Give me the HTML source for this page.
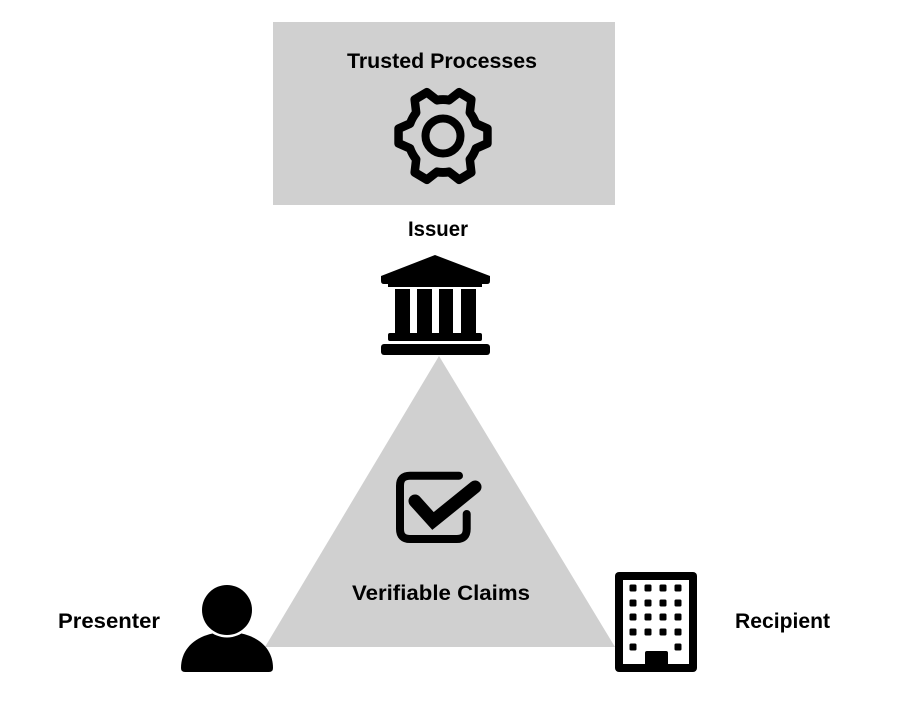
<!DOCTYPE html>
<html><head><meta charset="utf-8"><style>
html,body{margin:0;padding:0;background:#fff;}
svg{display:block;}
text{font-family:"Liberation Sans",Arial,sans-serif;font-weight:bold;font-size:21px;fill:#000;}
</style></head><body>
<svg width="902" height="702" viewBox="0 0 902 702" xmlns="http://www.w3.org/2000/svg">
<rect x="0" y="0" width="902" height="702" fill="#fff"/>
<!-- Trusted Processes box -->
<rect x="273" y="22" width="342" height="183" fill="#d0d0d0"/>
<text x="442" y="68" text-anchor="middle" textLength="190" lengthAdjust="spacingAndGlyphs">Trusted Processes</text>
<!-- gear -->
<g transform="translate(443,136)" fill="none" stroke="#000" stroke-width="8.5" stroke-linejoin="round">
<path d="M32.89,-11.97 L44.45,-7.04 L44.45,7.04 L32.89,11.97 A35,35 0 0 1 26.81,22.5 L28.32,34.97 L16.13,42.01 L6.08,34.47 A35,35 0 0 1 -6.08,34.47 L-16.13,42.01 L-28.32,34.97 L-26.81,22.5 A35,35 0 0 1 -32.89,11.97 L-44.45,7.04 L-44.45,-7.04 L-32.89,-11.97 A35,35 0 0 1 -26.81,-22.5 L-28.32,-34.97 L-16.13,-42.01 L-6.08,-34.47 A35,35 0 0 1 6.08,-34.47 L16.13,-42.01 L28.32,-34.97 L26.81,-22.5 A35,35 0 0 1 32.89,-11.97 Z" transform="scale(1,1.04)"/>
<circle cx="0" cy="0" r="17.5" stroke-width="8"/>
</g>
<!-- Issuer -->
<text x="438" y="236" text-anchor="middle" textLength="60" lengthAdjust="spacingAndGlyphs">Issuer</text>
<!-- triangle -->
<polygon points="439,356 265,647 615,647" fill="#d0d0d0"/>
<!-- bank icon -->
<g fill="#000">
<path d="M381,276 L435,255 L490,276 L490,281 Q490,284 487,284 L384,284 Q381,284 381,281 Z"/>
<rect x="388" y="283" width="94" height="4"/>
<rect x="395" y="289" width="15" height="45"/>
<rect x="417" y="289" width="15" height="45"/>
<rect x="439" y="289" width="14" height="45"/>
<rect x="461" y="289" width="15" height="45"/>
<rect x="388" y="333" width="94" height="8" rx="2"/>
<rect x="381" y="344" width="109" height="11" rx="3"/>
</g>
<!-- checkbox -->
<path d="M459,475.7 L410,475.7 Q400,475.7 400,485.7 L400,529 Q400,539 410,539 L456.7,539 Q466.7,539 466.7,529 L466.7,514" fill="none" stroke="#000" stroke-width="8" stroke-linecap="round"/>
<polyline points="415,501 433,521 475,487" fill="none" stroke="#000" stroke-width="13" stroke-linecap="round" stroke-linejoin="miter"/>
<text x="441" y="600" text-anchor="middle" textLength="178" lengthAdjust="spacingAndGlyphs">Verifiable  Claims</text>
<!-- Presenter -->
<text x="58" y="628" textLength="102" lengthAdjust="spacingAndGlyphs">Presenter</text>
<path d="M181,668 C181,646 200,632 227,632 C254,632 273,646 273,668 Q273,672 269,672 L185,672 Q181,672 181,668 Z" fill="#000"/>
<circle cx="227" cy="610" r="27.5" fill="#fff"/>
<circle cx="227" cy="610" r="25" fill="#000"/>
<!-- Recipient building -->
<rect x="615" y="572" width="82" height="100" rx="4" fill="#000"/>
<rect x="623" y="580" width="66" height="84" fill="#fff"/>
<g fill="#000">
<rect x="629.5" y="584.5" width="7" height="7" rx="1.5"/><rect x="644.5" y="584.5" width="7" height="7" rx="1.5"/><rect x="659.5" y="584.5" width="7" height="7" rx="1.5"/><rect x="674.5" y="584.5" width="7" height="7" rx="1.5"/>
<rect x="629.5" y="599.5" width="7" height="7" rx="1.5"/><rect x="644.5" y="599.5" width="7" height="7" rx="1.5"/><rect x="659.5" y="599.5" width="7" height="7" rx="1.5"/><rect x="674.5" y="599.5" width="7" height="7" rx="1.5"/>
<rect x="629.5" y="613.5" width="7" height="7" rx="1.5"/><rect x="644.5" y="613.5" width="7" height="7" rx="1.5"/><rect x="659.5" y="613.5" width="7" height="7" rx="1.5"/><rect x="674.5" y="613.5" width="7" height="7" rx="1.5"/>
<rect x="629.5" y="628.5" width="7" height="7" rx="1.5"/><rect x="644.5" y="628.5" width="7" height="7" rx="1.5"/><rect x="659.5" y="628.5" width="7" height="7" rx="1.5"/><rect x="674.5" y="628.5" width="7" height="7" rx="1.5"/>
<rect x="629.5" y="643.5" width="7" height="7" rx="1.5"/><rect x="674.5" y="643.5" width="7" height="7" rx="1.5"/>
<path d="M645,665 L645,653 Q645,651 647,651 L666,651 Q668,651 668,653 L668,665 Z"/>
</g>
<text x="735" y="628" textLength="95" lengthAdjust="spacingAndGlyphs">Recipient</text>
</svg>
</body></html>
